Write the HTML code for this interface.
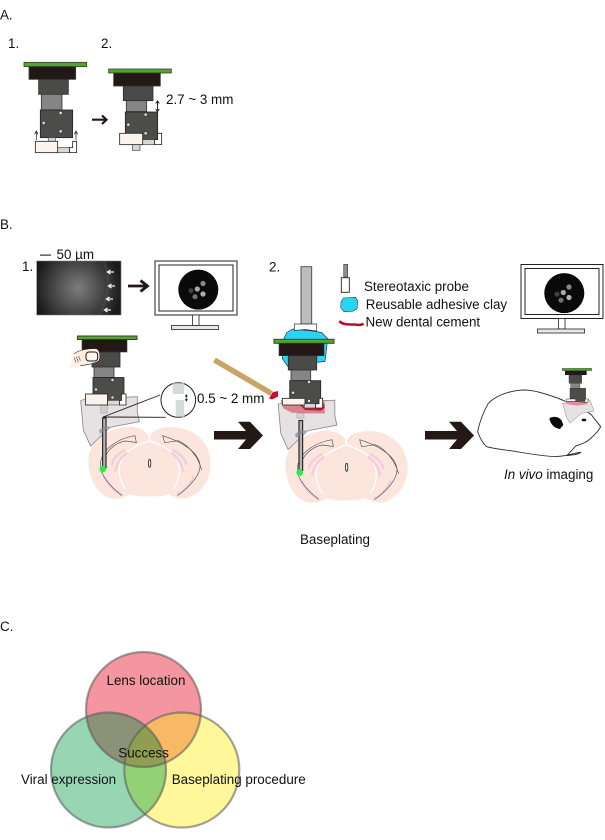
<!DOCTYPE html>
<html>
<head>
<meta charset="utf-8">
<style>
html,body{margin:0;padding:0;background:#fff;}
svg{display:block;}
text{font-family:"Liberation Sans",sans-serif;font-size:13.4px;fill:#111;}
.g{fill:#4fa82e;stroke:#3c3c34;stroke-width:1;}
.k{fill:#231815;stroke:#3a3a3a;stroke-width:.6;}
.d{fill:#4a4a48;stroke:#2b2b2b;stroke-width:.8;}
.m{fill:#858585;stroke:#333;stroke-width:.8;}
.s{fill:#4c4c4a;stroke:#222;stroke-width:.8;}
.w{fill:#fbf4ee;stroke:#222;stroke-width:.8;}
.c{fill:#d5dad9;stroke:#555;stroke-width:.6;}
.p{fill:#fff;stroke:#333;stroke-width:.7;}
.z rect{stroke-width:2.4;}
</style>
</head>
<body>
<svg width="605" height="840" viewBox="0 0 605 840" xmlns="http://www.w3.org/2000/svg">
<defs>
  <g id="monitor">
    <rect x="155" y="261" width="82" height="54" fill="#fff" stroke="#222" stroke-width="1"/>
    <rect x="159" y="265" width="74" height="46" fill="#fff" stroke="#222" stroke-width="1"/>
    <circle cx="198.3" cy="289.6" r="20" fill="#0a0a0a"/>
    <circle cx="203" cy="283.5" r="2.6" fill="#8a8a80"/>
    <circle cx="197.3" cy="289" r="2.6" fill="#a8a8a8"/>
    <circle cx="191" cy="290.7" r="2.6" fill="#404040"/>
    <circle cx="203" cy="294" r="2.6" fill="#b0b0b0"/>
    <circle cx="195" cy="296.7" r="2.6" fill="#77706e"/>
    <rect x="192.5" y="315" width="6.5" height="10.5" fill="#fff" stroke="#222" stroke-width=".8"/>
    <rect x="171.5" y="325.5" width="47" height="4" fill="#e8e8e8" stroke="#222" stroke-width=".8"/>
  </g>
  <g id="bigarrow">
    <polygon points="214,431 246,431 238,421.7 250,421.7 263,435.5 250,449 238,449 246,439.5 214,439.5" fill="#231815"/>
  </g>
  <g id="skull" transform="translate(50,370) scale(.3333)">
    <path d="M92,92 C105,84 180,84 262,80 L262,125 L268,155 L180,172 L122,228 L100,180 Z" fill="#e6e1e3" stroke="#8a8a8a" stroke-width="2.5"/>
  </g>
  <g id="brain" transform="translate(50,370) scale(.3333)">
    <path d="M230,170 C265,170 290,180 298,205 C305,180 335,168 380,172 C440,178 482,225 482,280 C482,330 455,370 410,385 C385,388 370,380 355,372 C340,380 310,380 300,378 C280,382 250,378 240,372 C225,382 200,390 180,385 C140,370 115,325 115,270 C115,220 170,175 230,170 Z" fill="#fbe5dd"/>
    <path d="M298,178 L298,212 C270,225 220,235 208,290 C205,320 215,340 225,358 M298,212 C326,225 376,235 388,290 C391,320 381,340 371,358" fill="none" stroke="#fff" stroke-width="4"/>
    <path d="M185,285 C190,265 205,250 225,240 M195,305 C200,280 215,260 232,248 M165,320 C175,345 195,365 215,375" fill="none" stroke="#f3cddf" stroke-width="7"/>
    <path d="M410,285 C405,265 390,250 368,240 M400,305 C395,280 380,260 362,248 M432,320 C420,345 400,365 382,375" fill="none" stroke="#f3cddf" stroke-width="7"/>
    <path d="M216,377 C175,345 145,310 152,275 C160,235 205,205 255,197 L259,218 C245,215 240,215 226,213 C195,218 165,245 158,280" fill="none" stroke="#555" stroke-width="2"/>
    <path d="M382,377 C420,350 452,315 450,285 C445,245 395,215 338,197 L344,218 C360,216 370,214 385,212 C415,225 445,260 455,300" fill="none" stroke="#555" stroke-width="2"/>
    <ellipse cx="299" cy="280" rx="3.5" ry="12" fill="#fff" stroke="#222" stroke-width="2.4"/>
  </g>
  <clipPath id="cr"><circle cx="143.5" cy="709.5" r="57.5"/></clipPath>
  <clipPath id="cg"><circle cx="108.5" cy="770" r="57.5"/></clipPath>
  <clipPath id="cy"><circle cx="181.8" cy="770" r="57.5"/></clipPath>
  <radialGradient id="mic" gradientUnits="userSpaceOnUse" cx="78" cy="288" r="44" fx="78" fy="288">
    <stop offset="0" stop-color="#7d7d7d"/>
    <stop offset=".4" stop-color="#565656"/>
    <stop offset="1" stop-color="#1a1a1a"/>
  </radialGradient>
</defs>

<!-- Section labels -->
<text x="0" y="19.5">A.</text>
<text x="8" y="48">1.</text>
<text x="101" y="48">2.</text>
<text x="0" y="229">B.</text>
<text x="0" y="631">C.</text>

<!-- A1 -->
<g class="z" transform="translate(0,0) scale(.3333)">
  <rect x="72" y="187" width="188" height="13" class="g"/>
  <rect x="87" y="200" width="140" height="38" class="k"/>
  <rect x="116" y="238" width="89" height="45" class="d"/>
  <rect x="124" y="283" width="62" height="47" class="m"/>
  <rect x="121" y="330" width="97" height="83" class="s"/>
  <circle cx="182" cy="339" r="5" fill="#ddd" stroke="#222" stroke-width="1.5"/>
  <circle cx="131" cy="369" r="5" fill="#ddd" stroke="#222" stroke-width="1.5"/>
  <circle cx="182" cy="394" r="5" fill="#ddd" stroke="#222" stroke-width="1.5"/>
  <rect x="145" y="413" width="21" height="11" class="c"/>
  <rect x="173" y="443" width="36" height="15" class="c"/>
  <path d="M209,458 L230,458 L230,424 L218,424 L218,443 L209,443 Z" fill="#fff" stroke="#222" stroke-width="2.4"/>
  <rect x="106" y="424" width="67" height="34" class="w"/>
  <path d="M109,420 L109,395 M104,403 L109,393 L114,403 M228,420 L228,395 M223,403 L228,393 L233,403" fill="none" stroke="#222" stroke-width="2.2"/>
</g>
<!-- Arrow A -->
<path d="M92,119.7 L106,119.7 M102,115.5 L106.5,119.7 L102,124" fill="none" stroke="#231815" stroke-width="2.2"/>
<!-- A2 -->
<g class="z" transform="translate(0,0) scale(.3333)">
  <rect x="326" y="207" width="188" height="12" class="g"/>
  <rect x="341" y="219" width="140" height="39" class="k"/>
  <rect x="370" y="258" width="89" height="44" class="d"/>
  <rect x="379" y="302" width="61" height="33" class="m"/>
  <rect x="397" y="433" width="23" height="18" class="c"/>
  <rect x="376" y="336" width="97" height="83" class="s"/>
  <circle cx="437" cy="344" r="5" fill="#ddd" stroke="#222" stroke-width="1.5"/>
  <circle cx="385" cy="374" r="5" fill="#ddd" stroke="#222" stroke-width="1.5"/>
  <circle cx="437" cy="400" r="5" fill="#ddd" stroke="#222" stroke-width="1.5"/>
  <rect x="428" y="419" width="36" height="15" class="c"/>
  <path d="M464,434 L485,434 L485,400 L473,400 L473,419 L464,419 Z" fill="#fff" stroke="#222" stroke-width="2.4"/>
  <rect x="359" y="400" width="69" height="34" class="w"/>
</g>
<path d="M157.5,101.5 L157.5,111 M155.7,103.5 L157.5,101 L159.3,103.5 M155.7,109 L157.5,111.5 L159.3,109" fill="none" stroke="#222" stroke-width="1"/>
<text x="166" y="104">2.7 ~ 3 mm</text>

<!-- B1 micrograph -->
<text x="22" y="271">1.</text>
<rect x="40" y="254.5" width="11" height="1.2" fill="#333"/>
<text x="56.5" y="259">50 µm</text>
<rect x="36.7" y="261" width="84.3" height="54" fill="url(#mic)" stroke="#777" stroke-width=".6"/>
<path d="M104,262 C112,280 108,298 100,314" fill="none" stroke="#555" stroke-width="3" opacity=".35"/>
<g fill="none" stroke="#f2f2f2" stroke-width="1.3">
  <path d="M108,272 L114,272 M110.5,270 L107.5,272 L110.5,274"/>
  <path d="M109,286 L115,286 M111.5,284 L108.5,286 L111.5,288"/>
  <path d="M107,299 L113,299 M109.5,297 L106.5,299 L109.5,301"/>
  <path d="M105,310 L111,310 M107.5,308 L104.5,310 L107.5,312"/>
</g>
<path d="M128,286 L147,286 M140.5,280.5 L147.5,286 L140.5,291.5" fill="none" stroke="#231815" stroke-width="2.8"/>
<use href="#monitor"/>

<!-- B1 assembly -->
<use href="#skull"/>
<use href="#brain"/>
<rect x="100.7" y="405" width="6.6" height="8" fill="#cfcfcf" stroke="#999" stroke-width=".5"/>
<rect x="102.6" y="418" width="3.4" height="50" fill="#b5b5b5" stroke="#2a2a2a" stroke-width="1.2"/>
<path d="M100,434 L110,427 L105,426 L99,430 Z" fill="#8a8593" opacity=".7"/>
<circle cx="102.7" cy="469" r="3.3" fill="#22ee44"/>

<rect x="77.5" y="336" width="59.5" height="3.5" class="g"/>
<rect x="82" y="339.5" width="45" height="12.5" class="k"/>
<rect x="92" y="352" width="28" height="15" class="d"/>
<rect x="94" y="367" width="20" height="10.5" class="m"/>
<rect x="93" y="377.5" width="31" height="26" class="s"/>
<circle cx="112.5" cy="380" r="1.6" fill="#ddd" stroke="#222" stroke-width=".5"/>
<circle cx="96" cy="389.5" r="1.6" fill="#ddd" stroke="#222" stroke-width=".5"/>
<circle cx="112.5" cy="397.5" r="1.6" fill="#ddd" stroke="#222" stroke-width=".5"/>
<rect x="107.5" y="400.5" width="12" height="4.5" class="c"/>
<path d="M119.5,405 L126,405 L126,394 L121.5,394 L121.5,400.5 L119.5,400.5 Z" fill="#fff" stroke="#222" stroke-width=".8"/>
<rect x="85.5" y="394" width="22" height="11" class="w"/>
<!-- finger -->
<g transform="translate(0,250) scale(.3333)">
  <path d="M210,353 L222,312 C235,300 265,295 288,296 C302,300 302,325 296,333 C285,342 250,345 210,353 Z" fill="#fdeee2"/>
  <path d="M222,312 C235,300 265,295 288,296 C302,300 302,325 296,333 C285,342 255,345 240,347" fill="none" stroke="#231815" stroke-width="1.6"/>
  <rect x="258" y="306" width="35" height="27" rx="9" fill="#fdf5ee" stroke="#231815" stroke-width="3"/>
  <path d="M222,322 L228,338 M229,320 L235,336 M236,318 L241,332" fill="none" stroke="#444" stroke-width="1.8"/>
</g>
<!-- magnifier -->
<path d="M160,395 L103,417 L165.7,417.3" fill="none" stroke="#222" stroke-width=".9"/>
<circle cx="178.3" cy="400" r="17.3" fill="#fff" stroke="#222" stroke-width="1"/>
<rect x="172.7" y="383.3" width="11.3" height="10.7" fill="#d5dada"/>
<rect x="175.7" y="400" width="8.3" height="16.7" fill="#d5dada"/>
<path d="M186.3,395 L186.3,400.7 M185.2,396.5 L186.3,394.8 L187.4,396.5 M185.2,399.2 L186.3,401 L187.4,399.2" fill="none" stroke="#222" stroke-width=".8"/>
<text x="197" y="403">0.5 ~ 2 mm</text>

<!-- Big arrows -->
<use href="#bigarrow"/>
<use href="#bigarrow" transform="translate(211,0)"/>

<!-- Brush -->
<path d="M214.5,360 L271.5,393.5" stroke="#c9a464" stroke-width="5.5" fill="none"/>
<path d="M269,398.5 L272.7,392.3 L278,391 L278,396.5 L272,399.5 Z" fill="#c8102e"/>

<!-- B2 -->
<text x="269" y="271.5">2.</text>
<use href="#skull" transform="translate(197.5,3.5)"/>
<use href="#brain" transform="translate(197,4)"/>
<rect x="301" y="266.7" width="10.7" height="57.3" fill="#bcbcbc" stroke="#444" stroke-width=".9"/>
<path d="M286.7,332.5 L293,329 L313,331 L321.5,332.5 L327.7,338.5 L325,361.5 L316.7,362.3 L288,366.7 L282.3,358.5 L283.3,340 Z" fill="#29d5f7" stroke="#333" stroke-width=".7"/>
<path d="M294.3,324 L316.7,324 L316.7,331 L305,329.5 L294.3,330.5 Z" fill="#fff" stroke="#333" stroke-width=".7"/>
<rect x="274" y="339.3" width="60" height="4" class="g"/>
<rect x="279" y="343.3" width="45" height="12.4" class="k"/>
<rect x="288.3" y="355.7" width="28.4" height="14.3" class="d"/>
<rect x="291" y="370" width="19.7" height="10.7" class="m"/>
<rect x="289.7" y="380.7" width="31" height="23" class="s"/>
<circle cx="309" cy="382" r="1.6" fill="#ddd" stroke="#222" stroke-width=".5"/>
<circle cx="293" cy="392.7" r="1.6" fill="#ddd" stroke="#222" stroke-width=".5"/>
<circle cx="309" cy="401" r="1.6" fill="#ddd" stroke="#222" stroke-width=".5"/>
<rect x="297" y="413" width="7" height="5" fill="#d8d2d0" stroke="#999" stroke-width=".5"/>
<rect x="299" y="420.5" width="3.6" height="50" fill="#b5b5b5" stroke="#2a2a2a" stroke-width="1.2"/>
<path d="M296,438 L307,431 L301,430 L295,434 Z" fill="#8a8593" opacity=".7"/>
<circle cx="299.7" cy="472.5" r="3.3" fill="#22ee44"/>
<g class="z" transform="translate(250,390) scale(.3333)">
  <path d="M92,30 L100,55 L125,68 L170,70 L225,70 L222,42 L205,52 L165,56 L150,42 L100,42 Z" fill="#c8102e" opacity=".45"/>
  <path d="M92,30 L100,45 L150,45 L165,60 L212,62 L224,54 L222,28 L218,55 L165,52 L150,38 L100,36 Z" fill="#c8102e"/>
  <rect x="97" y="25" width="68" height="20" class="w"/>
  <rect x="163" y="41" width="34" height="13" class="c"/>
  <path d="M197,54 L218,54 L218,25 L207,25 L207,41 L197,41 Z" fill="#fff" stroke="#222" stroke-width="2.4"/>
</g>

<!-- Legend -->
<rect x="343.7" y="264.3" width="4" height="12.7" fill="#8c8c8c" stroke="#444" stroke-width=".6"/>
<rect x="341.3" y="277.7" width="8" height="14.6" fill="#fff" stroke="#222" stroke-width=".9"/>
<text x="364" y="291">Stereotaxic probe</text>
<path d="M343.5,298 L355.5,297.3 L357.7,301 L357,309 L352,311.5 L344,311.7 L340.7,307.5 L341,302 Z" fill="#29d5f7" stroke="#333" stroke-width=".6"/>
<text x="365.7" y="309">Reusable adhesive clay</text>
<path d="M339.5,321 C342,325 350,324.5 355,324.5 C358,325 361,325.5 363.5,323.5" fill="none" stroke="#b5102a" stroke-width="2.6"/>
<text x="365.5" y="326.7">New dental cement</text>

<!-- Monitor 2 -->
<use href="#monitor" transform="translate(366,3.5)"/>

<!-- Mouse -->
<g transform="translate(410,255) scale(.3333)">
  <path d="M203,530 C208,505 218,475 235,445 C255,425 290,408 340,405 C375,405 410,418 445,430 C480,445 520,460 545,480 C555,495 565,505 572,515 C565,530 545,548 530,560 C515,568 505,570 497,573 C490,582 480,592 472,600 C485,598 500,593 512,592 C505,600 480,600 440,605 C400,604 350,595 320,590 C290,585 255,582 230,575 C218,565 210,550 203,530 Z" fill="#fff" stroke="#222" stroke-width="2.6"/>
  <path d="M418,490 C430,482 448,485 455,497 L460,510 L450,522 C435,520 422,510 418,490 Z" fill="#0a0a0a"/>
  <ellipse cx="522" cy="495" rx="7" ry="4" fill="#111"/>
  <path d="M458,445 L540,435 L552,468 L515,475 L480,505 L470,488 Z" fill="#e6e1e3" stroke="#888" stroke-width="1.5"/>
  <rect x="457" y="340" width="88" height="7" fill="#4fa82e" stroke="#333" stroke-width="1"/>
  <rect x="465" y="347" width="65" height="13" fill="#231815"/>
  <rect x="477" y="360" width="38" height="25" fill="#4a4a48" stroke="#222" stroke-width="1"/>
  <rect x="482" y="385" width="28" height="15" fill="#858585" stroke="#333" stroke-width="1"/>
  <rect x="480" y="400" width="47" height="37" fill="#4c4c4a" stroke="#222" stroke-width="1"/>
  <path d="M465,438 L530,438 L532,448 L500,452 L470,447 Z" fill="#e88a9c"/>
  <rect x="470" y="432" width="27" height="7" fill="#fff" stroke="#222" stroke-width="1.5"/>
  <path d="M497,439 L533,443 L535,432 L525,432 L525,440 Z" fill="#fff" stroke="#222" stroke-width="1.5"/>
</g>
<text x="504" y="479"><tspan font-style="italic">In vivo</tspan> imaging</text>
<text x="300" y="544">Baseplating</text>

<!-- Venn -->
<circle cx="143.5" cy="709.5" r="57.5" fill="#f4959f"/>
<circle cx="108.5" cy="770" r="57.5" fill="#98d6b3"/>
<circle cx="181.8" cy="770" r="57.5" fill="#fff799"/>
<g clip-path="url(#cr)"><circle cx="108.5" cy="770" r="57.5" fill="#8b9277"/></g>
<g clip-path="url(#cr)"><circle cx="181.8" cy="770" r="57.5" fill="#f7b965"/></g>
<g clip-path="url(#cg)"><circle cx="181.8" cy="770" r="57.5" fill="#93d176"/></g>
<g clip-path="url(#cr)"><g clip-path="url(#cg)"><circle cx="181.8" cy="770" r="57.5" fill="#8f9e52"/></g></g>
<g fill="none" stroke="#595757" stroke-opacity=".55" stroke-width="2.2">
  <circle cx="143.5" cy="709.5" r="57.5"/>
  <circle cx="108.5" cy="770" r="57.5"/>
  <circle cx="181.8" cy="770" r="57.5"/>
</g>
<text x="106.5" y="685">Lens location</text>
<text x="118.3" y="757.7">Success</text>
<text x="21" y="784">Viral expression</text>
<text x="171.7" y="784">Baseplating procedure</text>
</svg>
</body>
</html>
